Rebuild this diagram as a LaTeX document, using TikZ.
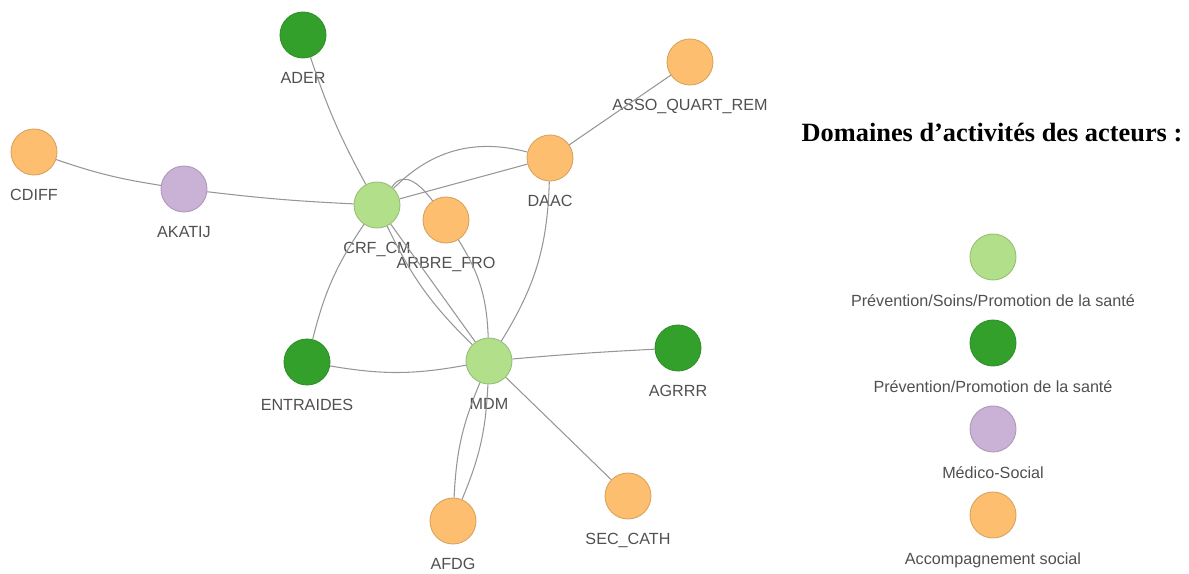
\documentclass[tikz,border=0pt]{standalone}
\usepackage{fontspec}
\setmainfont{Liberation Serif}
\setsansfont{Liberation Sans}
\usetikzlibrary{positioning}
\definecolor{soinsvert}{RGB}{178,223,138}
\definecolor{prevvert}{RGB}{51,160,44}
\definecolor{medicoviolet}{RGB}{202,178,214}
\definecolor{accorange}{RGB}{253,191,111}
\definecolor{liengris}{RGB}{150,150,150}
\definecolor{textegris}{RGB}{80,80,80}

\begin{document}
\begin{tikzpicture}[x=0.02cm, y=-0.02cm,
    acteur/.style={circle, minimum size=0.92cm, inner sep=0pt, line width=0.5pt},
    soins/.style={acteur, fill=soinsvert, draw=soinsvert!85!black},
    prevention/.style={acteur, fill=prevvert, draw=prevvert!90!black},
    medico/.style={acteur, fill=medicoviolet, draw=medicoviolet!85!black},
    accomp/.style={acteur, fill=accorange, draw=accorange!85!black},
    lien/.style={draw=liengris, line width=0.6pt},
    every label/.style={font=\sffamily\fontsize{9.2}{11}\selectfont, text=textegris, yshift=-0.16cm}]
    \useasboundingbox (0,0) rectangle (1189,574);

    % acteurs du reseau
    \node[prevention, label=below:ADER] (ader) at (303,35) {};
    \node[accomp, label=below:ASSO\_QUART\_REM] (asso) at (690,62) {};
    \node[accomp, label=below:CDIFF] (cdiff) at (34,152) {};
    \node[medico, label=below:AKATIJ] (akatij) at (184,189) {};
    \node[soins, label=below:CRF\_CM] (crf) at (377,205) {};
    \node[accomp, label=below:ARBRE\_FRO] (arbre) at (446,220) {};
    \node[accomp, label=below:DAAC] (daac) at (550,158) {};
    \node[prevention, label=below:ENTRAIDES] (entraides) at (307,362) {};
    \node[soins, label=below:MDM] (mdm) at (489,361) {};
    \node[prevention, label=below:AGRRR] (agrrr) at (678,348) {};
    \node[accomp, label=below:SEC\_CATH] (seccath) at (628,496) {};
    \node[accomp, label=below:AFDG] (afdg) at (453,521) {};

    % liens
    \draw[lien] (cdiff) to[bend right=5] (akatij);
    \draw[lien] (akatij) to[bend right=2] (crf);
    \draw[lien] (ader) to[bend right=5] (crf);
    \draw[lien] (crf) -- (daac);
    \draw[lien] (crf) to[bend left=30] (daac);
    \draw[lien] (crf.50) .. controls (400,174) and (414,176) .. (arbre.125);
    \draw[lien] (arbre) to[bend left=15] (mdm);
    \draw[lien] (crf) -- (mdm);
    \draw[lien] (crf) to[bend right=10] (mdm);
    \draw[lien] (crf) to[bend right=10] (entraides);
    \draw[lien] (entraides) to[bend right=10] (mdm);
    \draw[lien] (daac) to[bend left=15] (mdm);
    \draw[lien] (daac) -- (asso);
    \draw[lien] (mdm) to[bend left=1] (agrrr);
    \draw[lien] (mdm) -- (seccath);
    \draw[lien] (mdm) to[bend right=10] (afdg);
    \draw[lien] (mdm) to[bend left=10] (afdg);

    % legende
    \node[font=\bfseries\fontsize{15}{17}\selectfont] (titre) at (992,133) {Domaines d’activités des acteurs :};
    \node[soins, label=below:Prévention/Soins/Promotion de la santé] (leg1) at (993,257) {};
    \node[prevention, label=below:Prévention/Promotion de la santé] (leg2) at (993,343) {};
    \node[medico, label=below:Médico-Social] (leg3) at (993,429) {};
    \node[accomp, label=below:Accompagnement social] (leg4) at (993,515) {};
\end{tikzpicture}
\end{document}
